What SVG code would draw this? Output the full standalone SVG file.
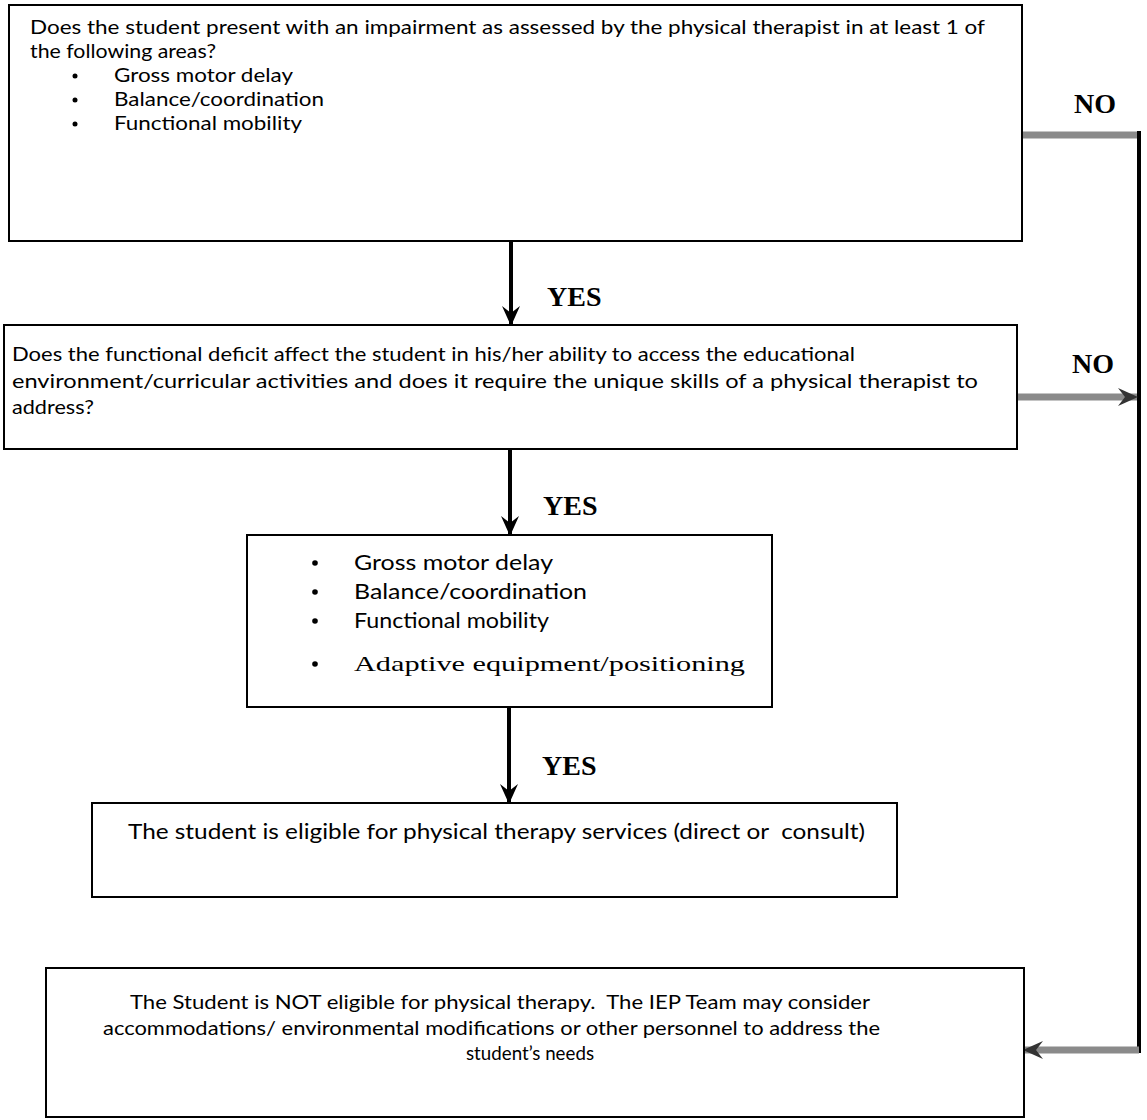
<svg xmlns="http://www.w3.org/2000/svg" width="1147" height="1120" viewBox="0 0 1147 1120">
<style>
.box{fill:#fff;stroke:#000;stroke-width:2}
.t{font-family:Lato,"Open Sans","Liberation Sans",sans-serif;font-size:19px;fill:#000;white-space:pre}
.t2{font-family:Lato,"Open Sans","Liberation Sans",sans-serif;font-size:21px;fill:#000;white-space:pre}
.ts{font-family:"Liberation Serif",serif;font-size:22px;fill:#000}
.lbl{font-family:"Liberation Serif",serif;font-weight:bold;font-size:28px;fill:#000}
.shaft{stroke:#000;stroke-width:4;fill:none}
.gray{stroke:#8a8a8a;stroke-width:7;fill:none}
.vline{stroke:#000;stroke-width:4;fill:none}
.dot{fill:#000}
</style>
<defs>
<marker id="ahd" viewBox="0 0 20 18" refX="19" refY="9" markerWidth="20" markerHeight="18" markerUnits="userSpaceOnUse" orient="auto">
<path d="M0,0 L20,9 L0,18 L7,9 z" fill="#000"/>
</marker>
<marker id="ahg" viewBox="0 0 20 18" refX="19" refY="9" markerWidth="20" markerHeight="18" markerUnits="userSpaceOnUse" orient="auto">
<path d="M0,0 L20,9 L0,18 L7,9 z" fill="#333"/>
</marker>
</defs>

<g id="connectors">
<line class="shaft" x1="511" y1="241" x2="511" y2="325" marker-end="url(#ahd)"/>
<line class="shaft" x1="510" y1="449" x2="510" y2="535" marker-end="url(#ahd)"/>
<line class="shaft" x1="509" y1="707" x2="509" y2="803" marker-end="url(#ahd)"/>
<line class="gray" x1="1022" y1="135" x2="1140" y2="135"/>
<line class="vline" x1="1139" y1="131" x2="1139" y2="1053"/>
<line class="gray" x1="1017" y1="397" x2="1137" y2="397" marker-end="url(#ahg)"/>
<line class="gray" x1="1139" y1="1050" x2="1024" y2="1050" marker-end="url(#ahg)"/>
<text class="lbl" x="547" y="306">YES</text>
<text class="lbl" x="543" y="515">YES</text>
<text class="lbl" x="542" y="775">YES</text>
<text class="lbl" x="1074" y="113">NO</text>
<text class="lbl" x="1072" y="373">NO</text>
</g>

<g id="node1">
<rect class="box" x="9" y="5" width="1013" height="236"/>
<text class="t" x="30" y="34" textLength="955" lengthAdjust="spacingAndGlyphs">Does the student present with an impairment as assessed by the physical therapist in at least 1 of</text>
<text class="t" x="30" y="58" textLength="186" lengthAdjust="spacingAndGlyphs">the following areas?</text>
<circle class="dot" cx="75" cy="76" r="2.5"/>
<text class="t" x="114" y="82" textLength="179" lengthAdjust="spacingAndGlyphs">Gross motor delay</text>
<circle class="dot" cx="75" cy="100" r="2.5"/>
<text class="t" x="114" y="106" textLength="210" lengthAdjust="spacingAndGlyphs">Balance/coordination</text>
<circle class="dot" cx="75" cy="124" r="2.5"/>
<text class="t" x="114" y="130" textLength="188" lengthAdjust="spacingAndGlyphs">Functional mobility</text>
</g>

<g id="node2">
<rect class="box" x="4" y="325" width="1013" height="124"/>
<text class="t" x="12" y="361" textLength="843" lengthAdjust="spacingAndGlyphs">Does the functional deficit affect the student in his/her ability to access the educational</text>
<text class="t" x="12" y="388" textLength="966" lengthAdjust="spacingAndGlyphs">environment/curricular activities and does it require the unique skills of a physical therapist to</text>
<text class="t" x="12" y="414" textLength="82" lengthAdjust="spacingAndGlyphs">address?</text>
</g>

<g id="node3">
<rect class="box" x="247" y="535" width="525" height="172"/>
<circle class="dot" cx="315" cy="563" r="2.8"/>
<text class="t2" x="354" y="570" textLength="199" lengthAdjust="spacingAndGlyphs">Gross motor delay</text>
<circle class="dot" cx="315" cy="592" r="2.8"/>
<text class="t2" x="354" y="599" textLength="233" lengthAdjust="spacingAndGlyphs">Balance/coordination</text>
<circle class="dot" cx="315" cy="621" r="2.8"/>
<text class="t2" x="354" y="628" textLength="195" lengthAdjust="spacingAndGlyphs">Functional mobility</text>
<circle class="dot" cx="315" cy="664" r="2.8"/>
<text class="ts" x="354" y="671" textLength="391" lengthAdjust="spacingAndGlyphs">Adaptive equipment/positioning</text>
</g>

<g id="node4">
<rect class="box" x="92" y="803" width="805" height="94"/>
<text class="t2" x="128" y="839" textLength="737" lengthAdjust="spacingAndGlyphs">The student is eligible for physical therapy services (direct or  consult)</text>
</g>

<g id="node5">
<rect class="box" x="46" y="968" width="978" height="149"/>
<text class="t" x="130" y="1009" textLength="740" lengthAdjust="spacingAndGlyphs">The Student is NOT eligible for physical therapy.  The IEP Team may consider</text>
<text class="t" x="103" y="1035" textLength="777" lengthAdjust="spacingAndGlyphs">accommodations/ environmental modifications or other personnel to address the</text>
<text class="t" x="466" y="1060" textLength="128" lengthAdjust="spacingAndGlyphs">student’s needs</text>
</g>
</svg>
